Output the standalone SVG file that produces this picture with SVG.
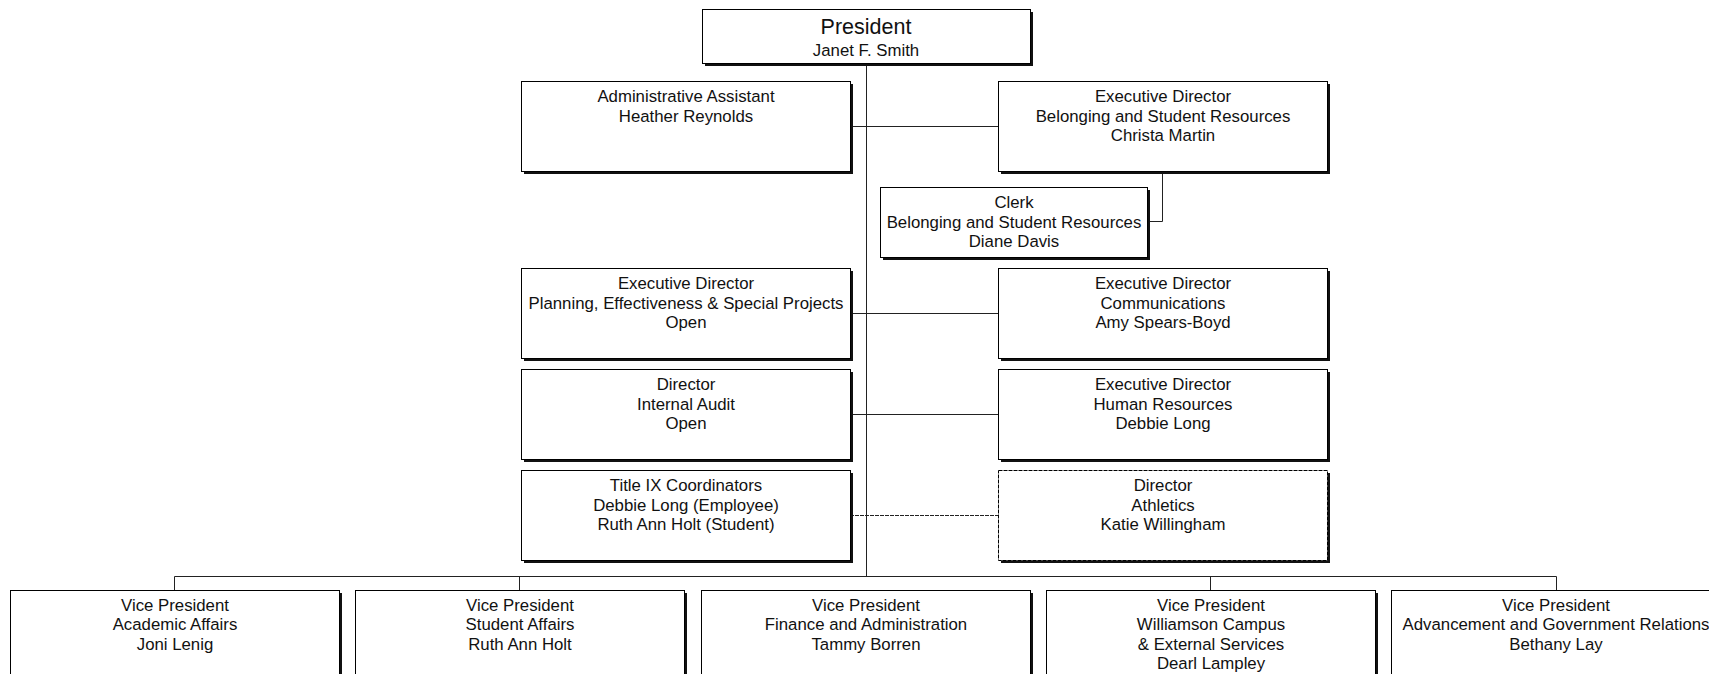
<svg xmlns="http://www.w3.org/2000/svg" width="1709" height="674" viewBox="0 0 1709 674">
<style>
.sh{fill:#111}
.bx{fill:#fff;stroke:#000;stroke-width:1}
.dash{stroke-dasharray:4 1}
.t{font-family:"Liberation Sans",Arial,sans-serif;font-size:16.8px;fill:#111;text-anchor:middle}
.big{font-size:21.5px}
.c{stroke:#222;stroke-width:1;fill:none}
</style>
<rect width="1709" height="674" fill="#fff"/>
<g id="connectors">
<path class="c" d="M866.5 63V576.5"/>
<path class="c" d="M850 126.5H998"/>
<path class="c" d="M1162.5 171V221.5H1147"/>
<path class="c" d="M850 313.5H998"/>
<path class="c" d="M850 414.5H998"/>
<path class="c dash" d="M850 515.5H998"/>
<path class="c" d="M174.5 590V576.5H1556.5V590"/>
<path class="c" d="M519.5 576.5V590"/>
<path class="c" d="M1210.5 576.5V590"/>
</g>
<g id="president">
<rect class="sh" x="705" y="12" width="328" height="54"/>
<rect class="bx" x="702.5" y="9.5" width="328" height="54"/>
<text class="t big" x="866" y="34">President</text>
<text class="t" x="866" y="56">Janet F. Smith</text>
</g>
<g id="admin-assistant">
<rect class="sh" x="524" y="84" width="329" height="90"/>
<rect class="bx" x="521.5" y="81.5" width="329" height="90"/>
<text class="t" x="686" y="102">Administrative Assistant</text>
<text class="t" x="686" y="121.5">Heather Reynolds</text>
</g>
<g id="exec-bsr">
<rect class="sh" x="1001" y="84" width="329" height="90"/>
<rect class="bx" x="998.5" y="81.5" width="329" height="90"/>
<text class="t" x="1163" y="102">Executive Director</text>
<text class="t" x="1163" y="121.5">Belonging and Student Resources</text>
<text class="t" x="1163" y="141">Christa Martin</text>
</g>
<g id="clerk">
<rect class="sh" x="883" y="190" width="267" height="70"/>
<rect class="bx" x="880.5" y="187.5" width="267" height="70"/>
<text class="t" x="1014" y="208">Clerk</text>
<text class="t" x="1014" y="227.5">Belonging and Student Resources</text>
<text class="t" x="1014" y="247">Diane Davis</text>
</g>
<g id="exec-planning">
<rect class="sh" x="524" y="271" width="329" height="90"/>
<rect class="bx" x="521.5" y="268.5" width="329" height="90"/>
<text class="t" x="686" y="289">Executive Director</text>
<text class="t" x="686" y="308.5">Planning, Effectiveness &amp; Special Projects</text>
<text class="t" x="686" y="328">Open</text>
</g>
<g id="exec-communications">
<rect class="sh" x="1001" y="271" width="329" height="90"/>
<rect class="bx" x="998.5" y="268.5" width="329" height="90"/>
<text class="t" x="1163" y="289">Executive Director</text>
<text class="t" x="1163" y="308.5">Communications</text>
<text class="t" x="1163" y="328">Amy Spears-Boyd</text>
</g>
<g id="director-audit">
<rect class="sh" x="524" y="372" width="329" height="90"/>
<rect class="bx" x="521.5" y="369.5" width="329" height="90"/>
<text class="t" x="686" y="390">Director</text>
<text class="t" x="686" y="409.5">Internal Audit</text>
<text class="t" x="686" y="429">Open</text>
</g>
<g id="exec-hr">
<rect class="sh" x="1001" y="372" width="329" height="90"/>
<rect class="bx" x="998.5" y="369.5" width="329" height="90"/>
<text class="t" x="1163" y="390">Executive Director</text>
<text class="t" x="1163" y="409.5">Human Resources</text>
<text class="t" x="1163" y="429">Debbie Long</text>
</g>
<g id="title-ix">
<rect class="sh" x="524" y="473" width="329" height="90"/>
<rect class="bx" x="521.5" y="470.5" width="329" height="90"/>
<text class="t" x="686" y="491">Title IX Coordinators</text>
<text class="t" x="686" y="510.5">Debbie Long (Employee)</text>
<text class="t" x="686" y="530">Ruth Ann Holt (Student)</text>
</g>
<g id="director-athletics">
<rect class="sh" x="1001" y="473" width="329" height="90"/>
<rect class="bx dash" x="998.5" y="470.5" width="329" height="90"/>
<text class="t" x="1163" y="491">Director</text>
<text class="t" x="1163" y="510.5">Athletics</text>
<text class="t" x="1163" y="530">Katie Willingham</text>
</g>
<g id="vp-academic">
<rect class="sh" x="13" y="593" width="329" height="90"/>
<rect class="bx" x="10.5" y="590.5" width="329" height="90"/>
<text class="t" x="175" y="610.5">Vice President</text>
<text class="t" x="175" y="630">Academic Affairs</text>
<text class="t" x="175" y="649.5">Joni Lenig</text>
</g>
<g id="vp-student">
<rect class="sh" x="358" y="593" width="329" height="90"/>
<rect class="bx" x="355.5" y="590.5" width="329" height="90"/>
<text class="t" x="520" y="610.5">Vice President</text>
<text class="t" x="520" y="630">Student Affairs</text>
<text class="t" x="520" y="649.5">Ruth Ann Holt</text>
</g>
<g id="vp-finance">
<rect class="sh" x="704" y="593" width="329" height="90"/>
<rect class="bx" x="701.5" y="590.5" width="329" height="90"/>
<text class="t" x="866" y="610.5">Vice President</text>
<text class="t" x="866" y="630">Finance and Administration</text>
<text class="t" x="866" y="649.5">Tammy Borren</text>
</g>
<g id="vp-williamson">
<rect class="sh" x="1049" y="593" width="329" height="90"/>
<rect class="bx" x="1046.5" y="590.5" width="329" height="90"/>
<text class="t" x="1211" y="610.5">Vice President</text>
<text class="t" x="1211" y="630">Williamson Campus</text>
<text class="t" x="1211" y="649.5">&amp; External Services</text>
<text class="t" x="1211" y="669">Dearl Lampley</text>
</g>
<g id="vp-advancement">
<rect class="sh" x="1394" y="593" width="329" height="90"/>
<rect class="bx" x="1391.5" y="590.5" width="329" height="90"/>
<text class="t" x="1556" y="610.5">Vice President</text>
<text class="t" x="1556" y="630">Advancement and Government Relations</text>
<text class="t" x="1556" y="649.5">Bethany Lay</text>
</g>
</svg>
